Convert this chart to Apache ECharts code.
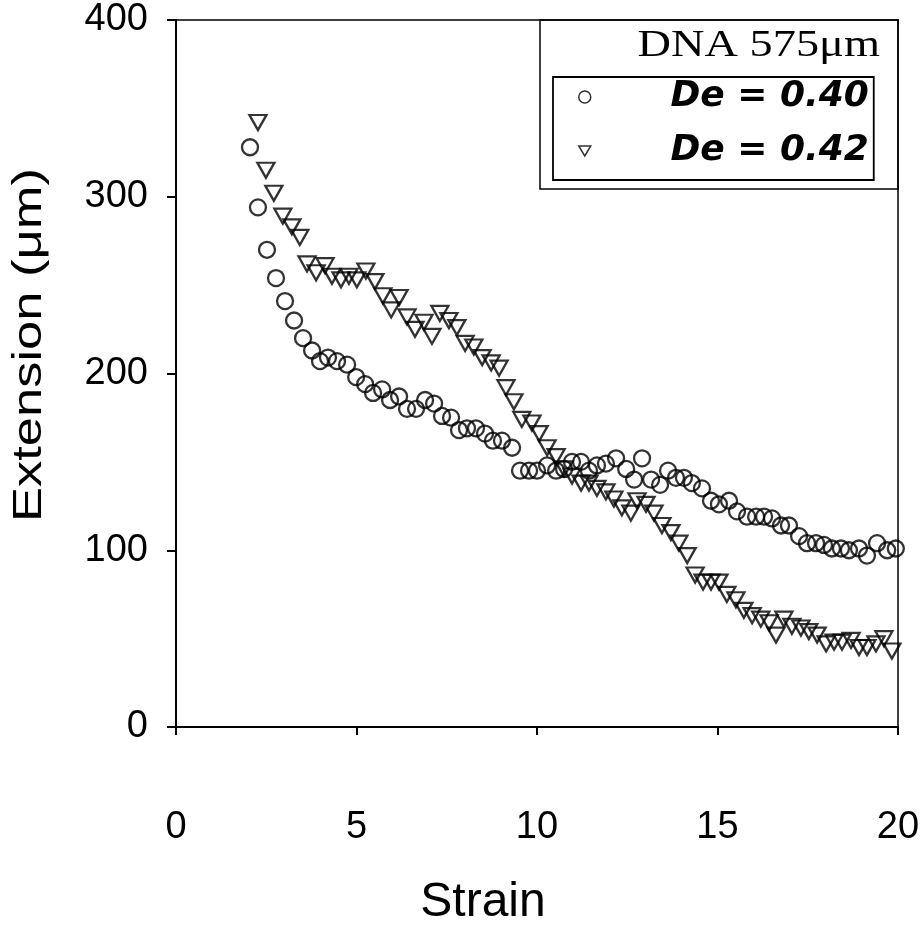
<!DOCTYPE html>
<html>
<head>
<meta charset="utf-8">
<script src="https://cdn.jsdelivr.net/npm/echarts@6/dist/echarts.min.js"></script>
<style>
html,body{margin:0;padding:0;background:#fff;}
#chart{width:924px;height:928px;}
</style>
</head>
<body>
<div id="chart"></div>
<script>
// Strain values and extension (µm) for each series
var strain040 = [2.05,2.27,2.52,2.77,3.02,3.27,3.52,3.77,3.99,4.21,4.46,4.74,4.99,5.24,5.46,5.71,5.93,6.18,6.40,6.65,6.90,7.15,7.37,7.62,7.84,8.06,8.31,8.56,8.78,9.03,9.31,9.53,9.78,10.0,10.28,10.53,10.75,10.97,11.22,11.44,11.66,11.91,12.19,12.47,12.69,12.91,13.16,13.41,13.63,13.85,14.07,14.29,14.57,14.82,15.04,15.32,15.54,15.82,16.07,16.29,16.51,16.76,16.98,17.26,17.48,17.73,17.95,18.17,18.42,18.64,18.92,19.14,19.42,19.70,19.94];
var ext040 = [328,294,270,254,241,230,220,213,207,209,207,205,198,194,189,191,185,187,180,180,185,183,176,175,168,169,169,166,162,162,158,145,145,145,148,145,146,150,150,145,148,149,152,146,140,152,140,137,145,141,141,138,135,128,126,128,122,119,119,119,118,114,114,108,104,104,103,101,101,100,101,97,104,100,101];
var strain042 = [2.27,2.49,2.71,2.96,3.21,3.43,3.63,3.88,4.13,4.32,4.57,4.79,5.01,5.26,5.51,5.73,5.96,6.18,6.40,6.62,6.87,7.09,7.31,7.56,7.78,8.01,8.25,8.48,8.73,8.95,9.14,9.36,9.58,9.86,10.06,10.28,10.53,10.75,10.97,11.22,11.44,11.66,11.91,12.13,12.35,12.60,12.77,13.02,13.24,13.46,13.71,13.93,14.16,14.38,14.60,14.82,15.04,15.26,15.51,15.73,15.96,16.20,16.43,16.62,16.84,17.06,17.31,17.53,17.76,18.01,18.23,18.45,18.70,18.92,19.14,19.39,19.61,19.83];
var ext042 = [342,315,302,289,283,277,262,257,261,255,253,255,253,258,252,244,236,243,232,225,229,221,234,230,226,217,215,209,206,203,192,184,174,172,166,158,153,146,142,138,138,135,133,129,124,121,128,126,121,114,110,104,97,86,82,82,82,75,72,66,63,61,59,52,61,57,56,54,52,47,48,48,49,45,45,47,50,43];
var seriesNames = ['De = 0.40', 'De = 0.42'];
var xTicks = [0, 5, 10, 15, 20];
var yTicks = [0, 100, 200, 300, 400];
var titleText = 'DNA 575\u03bcm';
var xTitle = 'Strain';
var yTitle = 'Extension (\u03bcm)';

function pairs(xs, ys) {
  var out = [];
  for (var i = 0; i < xs.length; i++) out.push([xs[i], ys[i]]);
  return out;
}

var chart = echarts.init(document.getElementById('chart'), null, {renderer: 'canvas'});
var sans = '"Liberation Sans", Arial, sans-serif';
var hollow = {color: 'transparent', borderColor: '#000', borderWidth: 2.3};
var legendIconStyle = {color: 'transparent', borderColor: '#000', borderWidth: 1.5};

chart.setOption({
  backgroundColor: '#fff',
  animation: false,
  grid: {
    left: 176, right: 26, top: 20, bottom: 201,
    show: true, borderColor: '#000', borderWidth: 1.5, backgroundColor: 'transparent'
  },
  xAxis: {
    type: 'value', min: xTicks[0], max: xTicks[xTicks.length - 1], interval: 5,
    axisLine: {lineStyle: {color: '#000', width: 2}},
    axisTick: {show: true, inside: false, length: 8, lineStyle: {color: '#000', width: 2}},
    axisLabel: {color: '#000', fontSize: 38, fontFamily: sans, margin: 82},
    splitLine: {show: false}
  },
  yAxis: {
    type: 'value', min: yTicks[0], max: yTicks[yTicks.length - 1], interval: 100,
    axisLine: {show: true, lineStyle: {color: '#000', width: 2}},
    axisTick: {show: true, inside: false, length: 9, lineStyle: {color: '#000', width: 2}},
    axisLabel: {color: '#000', fontSize: 38, fontFamily: sans, margin: 28},
    splitLine: {show: false}
  },
  legend: {
    orient: 'vertical',
    left: 553, top: 77, z: 20,
    padding: [2, 5, 11, 25],
    itemGap: 18,
    itemWidth: 12, itemHeight: 12,
    borderColor: '#000', borderWidth: 1.8,
    backgroundColor: '#fff',
    selectedMode: false,
    data: [
      {name: seriesNames[0], icon: 'circle', itemStyle: legendIconStyle},
      {name: seriesNames[1], icon: 'path://M0,0 L12,0 L6,10 Z', itemStyle: legendIconStyle}
    ],
    formatter: function (name) { return '{a|' + name + '}'; },
    textStyle: {
      rich: {
        a: {
          width: 273, align: 'right', color: '#000',
          fontFamily: '"DejaVu Sans", sans-serif', fontSize: 36,
          fontWeight: 'bold', fontStyle: 'italic', lineHeight: 40
        }
      }
    }
  },
  graphic: [
    {
      type: 'rect', z: 1,
      shape: {x: 540, y: 20, width: 358, height: 169},
      style: {fill: 'none', stroke: '#000', lineWidth: 1.5}
    },
    {
      type: 'text', z: 60, x: 880, y: 46, scaleX: 1.22, scaleY: 1,
      style: {
        text: titleText, x: 0, y: 0, fill: '#000',
        font: '38px "Liberation Serif", "Times New Roman", serif',
        textAlign: 'right', textVerticalAlign: 'middle'
      }
    },
    {
      type: 'text', z: 60, x: 483, y: 903,
      style: {
        text: xTitle, x: 0, y: 0, fill: '#000',
        font: '48px "Liberation Sans", Arial, sans-serif',
        textAlign: 'center', textVerticalAlign: 'middle'
      }
    },
    {
      type: 'text', z: 60, x: 30, y: 345, rotation: Math.PI / 2, scaleX: 1.28, scaleY: 1,
      style: {
        text: yTitle, x: 0, y: 0, fill: '#000',
        font: '41px "Liberation Sans", Arial, sans-serif',
        textAlign: 'center', textVerticalAlign: 'middle'
      }
    }
  ],
  series: [
    {
      name: seriesNames[0], type: 'scatter',
      symbol: 'circle', symbolSize: 16,
      itemStyle: hollow,
      data: pairs(strain040, ext040)
    },
    {
      name: seriesNames[1], type: 'scatter',
      symbol: 'triangle', symbolSize: [17, 15], symbolRotate: 180,
      itemStyle: hollow,
      data: pairs(strain042, ext042)
    }
  ]
});
</script>
</body>
</html>
